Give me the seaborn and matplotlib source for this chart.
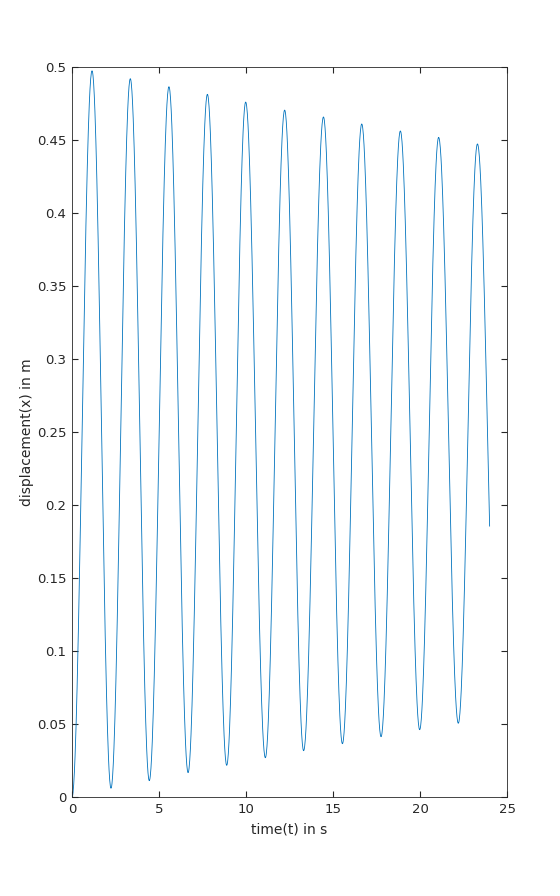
import numpy as np
import pandas as pd
import matplotlib
matplotlib.use("Agg")
import matplotlib.pyplot as plt
import seaborn as sns

# ---- values (time in s, displacement in m) ----
# curve start, alternating peaks / troughs, and the last point at t = 24
ext_t = [0.0, 1.15, 2.24, 3.35, 4.44, 5.57, 6.67, 7.78, 8.89, 9.98, 11.11,
         12.22, 13.31, 14.45, 15.54, 16.65, 17.76, 18.87, 19.98, 21.07, 22.20,
         23.30, 24.45]
ext_x = [0.0, 0.4974, 0.0060, 0.4920, 0.0112, 0.4865, 0.0167, 0.4813, 0.0217,
         0.4760, 0.0269, 0.4705, 0.0317, 0.4658, 0.0365, 0.4610, 0.0413,
         0.4562, 0.0461, 0.4518, 0.0505, 0.4473, 0.0550]
t_end = 24.0

xticks = [0, 5, 10, 15, 20, 25]
yticks = [0, 0.05, 0.1, 0.15, 0.2, 0.25, 0.3, 0.35, 0.4, 0.45, 0.5]
ytick_labels = ["0", "0.05", "0.1", "0.15", "0.2", "0.25", "0.3", "0.35",
                "0.4", "0.45", "0.5"]

# smooth half-cosine between neighbouring extrema, cut at t_end
ts, xs = [], []
for i in range(len(ext_t) - 1):
    t0, t1 = ext_t[i], ext_t[i + 1]
    t = np.linspace(t0, min(t1, t_end), 60)
    s = (t - t0) / (t1 - t0)
    x = ext_x[i] + (ext_x[i + 1] - ext_x[i]) * (1 - np.cos(np.pi * s)) / 2
    ts.extend(t)
    xs.extend(x)
df = pd.DataFrame({"t": ts, "x": xs})

sns.set_style("ticks")
plt.rcParams["font.family"] = ["DejaVu Sans"]

fig = plt.figure(figsize=(5.6, 8.96), dpi=100)
ax = fig.add_axes([0.1286, 0.1105, 0.7768, 0.8147])

sns.lineplot(data=df, x="t", y="x", sort=False, color="#0072BD",
             linewidth=0.6, ax=ax)

ax.set_xlim(0, 25)
ax.set_ylim(0, 0.5)
ax.set_xticks(xticks)
ax.set_xticklabels([str(v) for v in xticks])
ax.set_yticks(yticks)
ax.set_yticklabels(ytick_labels)
ax.tick_params(direction="in", length=4, width=0.8, colors="#262626",
               labelsize=9.5, top=True, right=True, pad=4)
for sp in ax.spines.values():
    sp.set_visible(True)
    sp.set_color("#262626")
    sp.set_linewidth(0.6)
ax.set_xlabel("time(t) in s", fontsize=10, color="#262626", labelpad=5)
ax.set_ylabel("displacement(x) in m", fontsize=10, color="#262626", labelpad=2)

fig.savefig("out.png", dpi=100)
